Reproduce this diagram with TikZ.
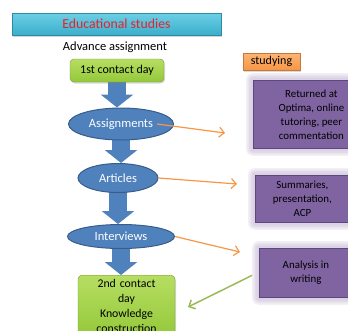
\documentclass[tikz,border=0pt]{standalone}
\usepackage{fontspec}
\setmainfont{Carlito}
\usepackage{tikz}
\usetikzlibrary{arrows}
\usetikzlibrary{arrows.meta}
\usetikzlibrary{calc}
\usetikzlibrary{shapes.geometric}
\usetikzlibrary{shadows}
\usetikzlibrary{backgrounds}
\definecolor{mytitle}{HTML}{3AAECB}
\definecolor{mytitletop}{HTML}{6CCFE6}
\definecolor{myred}{HTML}{E8202A}
\definecolor{mygreen}{HTML}{94C83A}
\definecolor{mygreentop}{HTML}{B6DE62}
\definecolor{mygreenline}{HTML}{76963A}
\definecolor{myblue}{HTML}{4F81BD}
\definecolor{mybluedark}{HTML}{385D8A}
\definecolor{mypurple}{HTML}{8064A2}
\definecolor{mypurpleline}{HTML}{5C4780}
\definecolor{myorange}{HTML}{F79646}
\definecolor{myorangetop}{HTML}{FBB574}
\definecolor{mylime}{HTML}{9BBB59}

\tikzset{
  titlebar/.style={draw=mytitle!80!black,top color=mytitletop,bottom color=mytitle,
    minimum width=209pt,minimum height=22pt,text=myred,font=\fontsize{13.8}{15}\selectfont,
    drop shadow={opacity=0.35,shadow xshift=1pt,shadow yshift=-1.5pt}},
  greenbox/.style={draw=mygreenline,rounded corners=4pt,top color=mygreentop,bottom color=mygreen,
    align=center,inner sep=2pt,font=\fontsize{12}{15}\selectfont,
    drop shadow={opacity=0.3,shadow xshift=1pt,shadow yshift=-1.5pt}},
  ellbox/.style={ellipse,draw=mybluedark,line width=1pt,fill=myblue,text=white,inner sep=0pt,
    font=\fontsize{12.5}{14}\selectfont},
  purplebox/.style={draw=mypurpleline,line width=0.8pt,fill=mypurple,align=center,inner sep=1pt,
    anchor=north west,font=\fontsize{10.9}{14}\selectfont},
  bigarrow/.style={myblue,line width=18pt,-{Triangle[width=32pt,length=13pt]}},
  thinarrow/.style={line width=1.2pt,-{Straight Barb[length=5pt,width=10pt]}},
}

\begin{document}
\begin{tikzpicture}[x=1pt,y=-1pt]
\clip (0,0) rectangle (348,330);

\node[titlebar] (title) at (116.5,24) {Educational studies};
\node[font=\fontsize{12.5}{14}\selectfont] (adv) at (115,47) {Advance assignment};
\node[greenbox,minimum width=94pt,minimum height=23pt] (day1) at (117,70.5) {1st contact day};

\node[ellbox,minimum width=105pt,minimum height=32pt] (asg) at (121,124) {Assignments};
\node[ellbox,minimum width=80pt,minimum height=29pt] (art) at (118,178) {Articles};
\node[ellbox,minimum width=107pt,minimum height=24pt] (int) at (121,236.5) {Interviews};

\node[greenbox,anchor=north,minimum width=97pt,minimum height=62pt,text width=90pt,
  font=\fontsize{11.8}{15}\selectfont]
  (day2) at (126.5,275) {2nd contact\\day\\Knowledge\\construction};

\node[draw=myorange!80!black,top color=myorangetop,bottom color=myorange,
  minimum width=57pt,minimum height=17pt,inner sep=1pt,font=\fontsize{12}{14}\selectfont,
  drop shadow={opacity=0.3,shadow xshift=1pt,shadow yshift=-1.5pt}]
  (stud) at (271.5,61.5) {studying};

\node[purplebox,minimum width=116pt,minimum height=68pt] (ret) at (253,80)
  {Returned at\\Optima, online\\tutoring, peer\\commentation};
\node[purplebox,minimum width=94pt,minimum height=47pt] (sum) at (255,175)
  {Summaries,\\presentation,\\ACP};
\node[purplebox,minimum width=93pt,minimum height=49pt] (ana) at (259,248)
  {Analysis in\\writing};

\begin{scope}[on background layer]
\foreach \b in {ret,sum,ana}
  \foreach \g in {7,5.5,4,2.5}
    \fill[mypurple!45,opacity=0.22,rounded corners=\g pt]
      ($(\b.north west)+(-\g,-\g)$) rectangle ($(\b.south east)+(\g,\g)$);

\draw[bigarrow] (day1.center) -- (day1.center |- asg.north);
\draw[bigarrow] (asg.center) -- (asg.center |- art.north);
\draw[bigarrow] (art.center) -- (art.center |- int.north);
\draw[bigarrow] (int.center) -- (int.center |- day2.north);
\end{scope}

\coordinate (asgend) at (225,133);
\coordinate (artend) at (237,184);
\coordinate (intend) at (240,252);
\coordinate (anaend) at (188,307);

\draw[thinarrow,myorange] ($(asg.center)!0.68!(asg.east)$) -- (asgend);
\draw[thinarrow,myorange] (art.east) -- (artend);
\draw[thinarrow,myorange] (int.east) -- (intend);
\draw[thinarrow,mylime,line width=1.5pt] ([xshift=-7pt,yshift=-2.5pt]ana.west) -- (anaend);
\end{tikzpicture}
\end{document}
